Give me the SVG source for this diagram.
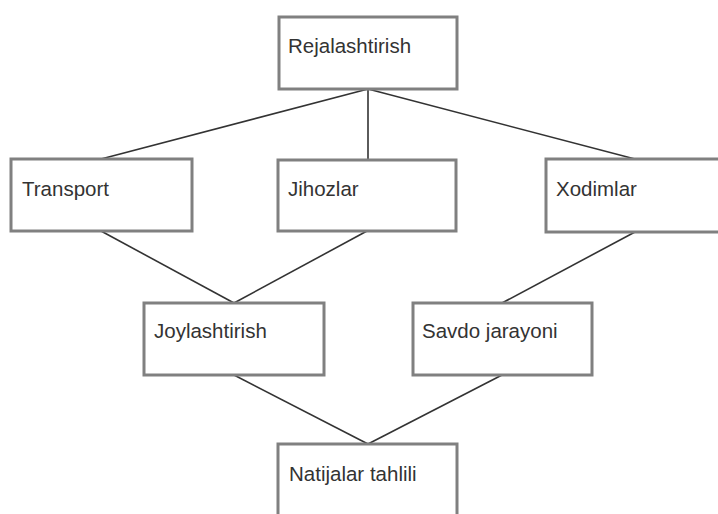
<svg xmlns="http://www.w3.org/2000/svg" width="718" height="514" viewBox="0 0 718 514">
<style>
.box{fill:#ffffff;stroke:#808080;stroke-width:3}
.lbl{font-family:"Liberation Sans",Arial,sans-serif;font-size:20.5px;fill:#333333}
.edge{stroke:#333333;stroke-width:1.6;fill:none}
</style>
<rect width="718" height="514" fill="#ffffff"/>
<g id="connectors">
<line class="edge" x1="368" y1="89" x2="101" y2="159"/>
<line class="edge" x1="368" y1="89" x2="368" y2="160"/>
<line class="edge" x1="368" y1="89" x2="635" y2="159"/>
<line class="edge" x1="101" y1="231" x2="234" y2="303"/>
<line class="edge" x1="367" y1="231" x2="234" y2="303"/>
<line class="edge" x1="635" y1="232" x2="502" y2="303"/>
<line class="edge" x1="234" y1="375" x2="368" y2="444"/>
<line class="edge" x1="502" y1="375" x2="368" y2="444"/>
</g>
<g id="rejalashtirish">
<rect class="box" x="279" y="17" width="178" height="72"/>
<text class="lbl" x="288" y="53">Rejalashtirish</text>
</g>
<g id="transport">
<rect class="box" x="11" y="159" width="181" height="72"/>
<text class="lbl" x="22" y="196">Transport</text>
</g>
<g id="jihozlar">
<rect class="box" x="278" y="160" width="178" height="71"/>
<text class="lbl" x="288" y="196">Jihozlar</text>
</g>
<g id="xodimlar">
<rect class="box" x="546" y="159" width="178" height="73"/>
<text class="lbl" x="556" y="196">Xodimlar</text>
</g>
<g id="joylashtirish">
<rect class="box" x="144" y="303" width="180" height="72"/>
<text class="lbl" x="154" y="338">Joylashtirish</text>
</g>
<g id="savdo">
<rect class="box" x="413" y="303" width="179" height="72"/>
<text class="lbl" x="422" y="338">Savdo jarayoni</text>
</g>
<g id="natijalar">
<rect class="box" x="278" y="444" width="179" height="80"/>
<text class="lbl" x="289" y="481">Natijalar tahlili</text>
</g>
</svg>
